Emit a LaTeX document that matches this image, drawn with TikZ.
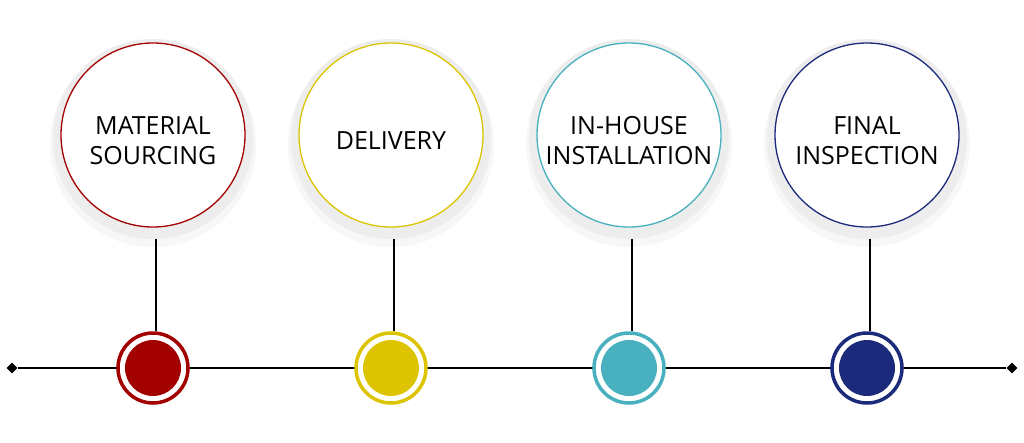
\documentclass[tikz,border=0pt]{standalone}
\usepackage{fontspec}
\setmainfont{Open Sans}
\usetikzlibrary{positioning,shapes.geometric}
\definecolor{cred}{HTML}{A30000}
\definecolor{cyel}{HTML}{DCC400}
\definecolor{ccya}{HTML}{48B0BF}
\definecolor{cnav}{HTML}{1B2A7A}
\tikzset{
  halo/.style={circle,draw=none,fill=gray!14,minimum size=200pt,inner sep=0pt},
  bubble/.style={circle,draw=#1,line width=1.3pt,fill=white,minimum size=184pt,inner sep=0pt},
  caption/.style={align=center,font=\fontsize{25}{30}\selectfont},
  ring/.style={circle,draw=#1,line width=3.5pt,fill=white,minimum size=70pt,inner sep=0pt},
  dot/.style={circle,fill=#1,minimum size=56pt,inner sep=0pt},
  tip/.style={diamond,fill=black,minimum size=11pt,inner sep=0pt}
}
\begin{document}
\begin{tikzpicture}[x=1pt,y=-1pt]
	\useasboundingbox[fill=white] (0,0) rectangle (1024,442);
	\node[tip] (L) at (12,368) {};
	\node[tip] (R) at (1012,368) {};
	\draw[line width=1.5pt] (L) -- (R);

	\foreach \n/\x/\c/\t in {a/153/cred/{MATERIAL\\SOURCING},b/391/cyel/{DELIVERY},
		c/629/ccya/{IN-HOUSE\\INSTALLATION},d/867/cnav/{FINAL\\INSPECTION}}{
		\fill[gray!6] (\x,144) circle (103);
		\node[halo] (h\n) at (\x,139) {};
		\node[bubble=\c] (b\n) at (\x,135) {};
		\node[caption] (t\n) at (\x,141) {\t};
		\node[ring=\c] (r\n) at (\x,368) {};
		\node[dot=\c] (d\n) at (\x,368) {};
		\draw[line width=1.5pt] (\x+3,239) -- (r\n.north -| {\x+3,0});
	}
\end{tikzpicture}
\end{document}
